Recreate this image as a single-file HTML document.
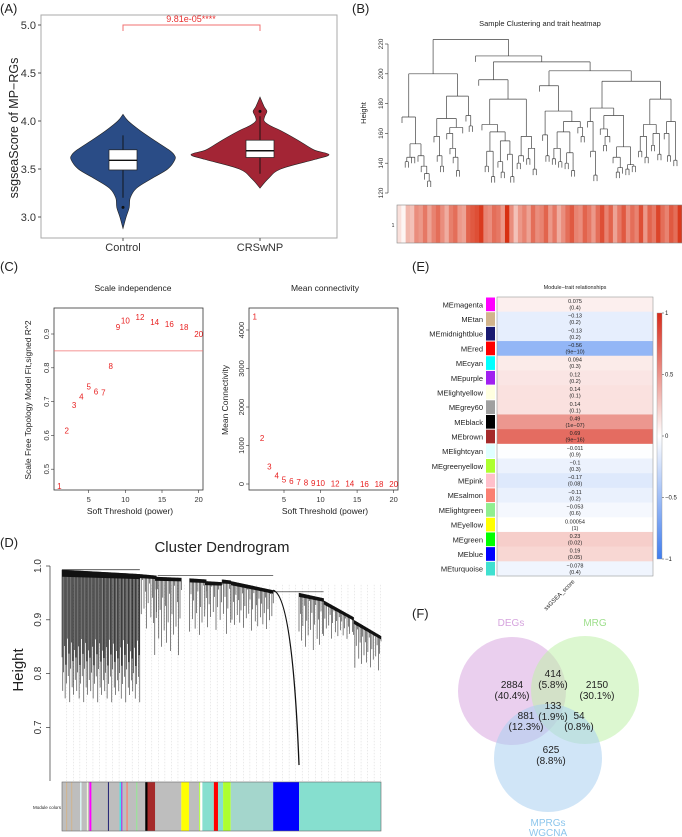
<!DOCTYPE html>
<html><head><meta charset="utf-8"><style>
html,body{margin:0;padding:0;background:#fff}
svg{display:block;font-family:"Liberation Sans",Arial,sans-serif}
</style></head><body>
<svg id="fig" width="682" height="837" viewBox="0 0 682 837" xmlns="http://www.w3.org/2000/svg">
<rect width="682" height="837" fill="#fff"/>
<g font-size="13" fill="#222">
<text x="0" y="13">(A)</text>
<text x="352" y="13">(B)</text>
<text x="0" y="271">(C)</text>
<text x="0" y="547">(D)</text>
<text x="412" y="271">(E)</text>
<text x="412" y="618">(F)</text>
</g>
<g id="pa">
<rect x="41" y="15" width="296" height="223" fill="none" stroke="#aaa" stroke-width="1"/>
<text transform="translate(18,128) rotate(-90)" text-anchor="middle" font-size="12.5" fill="#222">ssgseaScore of MP−RGs</text>
<path d="M123,31 V25 H260 V31" fill="none" stroke="#f07070" stroke-width="1"/>
<text x="191" y="22" text-anchor="middle" font-size="9" fill="#e83030">9.81e-05****</text>
</g>
<g id="pb">
<text x="540" y="26" text-anchor="middle" font-size="7.5" fill="#222">Sample Clustering and trait heatmap</text>
<text transform="translate(366,113) rotate(-90)" text-anchor="middle" font-size="7.5" fill="#222">Height</text>
<text x="393" y="227" text-anchor="middle" font-size="5" fill="#222">1</text>
</g>
<g id="pc">
<rect x="54" y="308" width="149" height="182" fill="none" stroke="#333" stroke-width="0.8"/>
<rect x="249" y="308" width="149" height="182" fill="none" stroke="#333" stroke-width="0.8"/>
<text x="133" y="291" text-anchor="middle" font-size="8.5" fill="#222">Scale independence</text>
<text x="325" y="291" text-anchor="middle" font-size="8.5" fill="#222">Mean connectivity</text>
<text x="130" y="514" text-anchor="middle" font-size="8.5" fill="#222">Soft Threshold (power)</text>
<text x="325" y="514" text-anchor="middle" font-size="8.5" fill="#222">Soft Threshold (power)</text>
<text transform="translate(31,400) rotate(-90)" text-anchor="middle" font-size="8.5" fill="#222">Scale Free Topology Model Fit,signed R^2</text>
<text transform="translate(228,400) rotate(-90)" text-anchor="middle" font-size="8.5" fill="#222">Mean Connectivity</text>
</g>
<g id="pd">
<text x="222" y="552" text-anchor="middle" font-size="15" fill="#222">Cluster Dendrogram</text>
<text transform="translate(23,670) rotate(-90)" text-anchor="middle" font-size="15" fill="#222">Height</text>
<text x="61" y="809" text-anchor="end" font-size="4.5" fill="#222">Module colors</text>
</g>
<g id="pe">
<text x="575" y="289" text-anchor="middle" font-size="5.5" fill="#222">Module−trait relationships</text>
<text transform="translate(575,582) rotate(-45)" text-anchor="end" font-size="6" fill="#222">ssGSEA_score</text>
</g>
<g id="pf"></g>
</svg>
<script>
const NS='http://www.w3.org/2000/svg';
const svg=document.getElementById('fig');
function mk(tag,attrs,parent){const e=document.createElementNS(NS,tag);for(const k in attrs)e.setAttribute(k,attrs[k]);(parent||svg).appendChild(e);return e;}
function smooth(pts){let d='M'+pts[0][0]+','+pts[0][1];for(let i=0;i<pts.length-1;i++){const p0=pts[Math.max(0,i-1)],p1=pts[i],p2=pts[i+1],p3=pts[Math.min(pts.length-1,i+2)];const c1=[p1[0]+(p2[0]-p0[0])/6,p1[1]+(p2[1]-p0[1])/6],c2=[p2[0]-(p3[0]-p1[0])/6,p2[1]-(p3[1]-p1[1])/6];d+=' C'+c1[0]+','+c1[1]+' '+c2[0]+','+c2[1]+' '+p2[0]+','+p2[1];}return d;}

/* ===== Panel A data ===== */
const violinGroups=['Control','CRSwNP'];
const ctrlDensY=[2.88,3.0,3.1,3.2,3.3,3.4,3.5,3.6,3.65,3.7,3.8,3.9,4.0,4.07];
const ctrlDensW=[0,0.06,0.12,0.14,0.26,0.55,0.86,1.0,0.98,0.88,0.6,0.33,0.1,0];
const crsDensY=[3.3,3.4,3.5,3.6,3.65,3.7,3.8,3.9,3.95,4.0,4.05,4.1,4.15,4.25];
const crsDensW=[0,0.12,0.3,0.8,1.0,0.78,0.55,0.3,0.15,0.06,0.07,0.1,0.06,0];
const ctrlBox=[3.2,3.49,3.59,3.70,3.85]; const ctrlOut=[3.1];
const crsBox=[3.45,3.62,3.69,3.80,4.05]; const crsOut=[4.1];
const aTicks=[3.0,3.5,4.0,4.5,5.0];
const pa=document.getElementById('pa');
const yA=v=>25+(5-v)*96; const xA={Control:123,CRSwNP:260};
aTicks.forEach(t=>{
 const l=mk('line',{x1:38,x2:41,y1:yA(t),y2:yA(t),stroke:'#555'},pa);
 
 
 const tx=mk('text',{x:36,y:yA(t)+4,'text-anchor':'end','font-size':11,fill:'#333'},pa);tx.textContent=t.toFixed(1);
 
 
});
function drawViolin(name,ys,ws,maxW,fill,box,outs){
 const cx=xA[name];
 const right=ys.map((y,i)=>[cx+ws[i]*maxW,yA(y)]);
 const left=ys.map((y,i)=>[cx-ws[i]*maxW,yA(y)]).reverse();
 const d=smooth(right)+' L'+smooth(left).slice(1)+' Z';
 const p=mk('path',{d:d,fill:fill,stroke:'#222','stroke-width':0.6},pa);
 
 
 const w=mk('line',{x1:cx,x2:cx,y1:yA(box[0]),y2:yA(box[4]),stroke:'#111','stroke-width':0.9},pa);
 
 
 const b=mk('rect',{x:cx-14,y:yA(box[3]),width:28,height:yA(box[1])-yA(box[3]),fill:'#fff',stroke:'#222','stroke-width':0.7},pa);
 
 
 const m=mk('line',{x1:cx-14,x2:cx+14,y1:yA(box[2]),y2:yA(box[2]),stroke:'#111','stroke-width':1.4},pa);
 
 
 outs.forEach(o=>{const c=mk('circle',{cx:cx,cy:yA(o),r:1.5,fill:'#111'},pa);
  
  });
 const tk=mk('line',{x1:cx,x2:cx,y1:238,y2:241,stroke:'#555'},pa);
 
 
 const t=mk('text',{x:cx,y:251,'text-anchor':'middle','font-size':11,fill:'#333'},pa);t.textContent=name;
 
 
}
drawViolin('Control',ctrlDensY,ctrlDensW,52,'#2a4c86',ctrlBox,ctrlOut);
drawViolin('CRSwNP',crsDensY,crsDensW,69,'#a32535',crsBox,crsOut);

/* ===== Panel B data ===== */
const pb=document.getElementById('pb');
const bTicks=[120,140,160,180,200,220];
const sampleTree=[223,
 [200,
  [171,0,[153,[144,[141,0,0],[144,0,0]],[145,0,[138,0,[133,0,[128,0,0]]]]]],
  [185,[170,[158,0,[145,0,[138,0,0]]],[164,[160,0,[150,0,[144,0,[135,0,0]]]],0]],[172,0,[165,0,0]]]],
 [212,0,[208,
  [196,0,[183,[166,0,[161,[148,[138,0,0],[131,0,0]],[155,[141,0,[134,0,0]],[146,0,[131,0,0]]]]],[158,[145,[140,0,0],0],[150,[143,0,0],[136,0,0]]]]],
  [202,[192,0,[175,[159,0,[145,0,0]],[168,[161,[150,[143,0,0],[141,0,0]],[147,[140,0,0],[135,0,0]]],[164,0,[158,0,0]]]]],
   [195,[177,[168,0,[148,0,[132,0,0]]],[172,[163,0,[158,[152,0,0],0]],[151,[144,0,[137,[134,0,0],0]],[139,[136,0,0],[138,0,0]]]]],
    [183,[166,[158,[148,0,0],[144,0,0]],[160,[152,0,0],[146,0,0]]],[168,[160,0,[145,0,0]],[142,0,0]]]]]]]];
const traitValues=[0.15,0.05,0.35,0.3,0.55,0.5,0.65,0.45,0.6,0.7,0.55,0.4,0.62,0.7,0.5,0.45,0.75,0.8,0.85,0.95,0.6,0.55,0.7,0.65,0.5,1.0,0.55,0.3,0.5,0.6,0.45,0.7,0.55,0.6,0.75,0.5,0.65,0.4,0.55,0.7,0.8,0.6,0.55,0.75,0.65,0.5,0.7,0.85,0.6,0.75,0.45,0.65,0.8,0.55,0.7,0.6,0.85,0.5,0.75,0.65,0.9,0.7,0.6,0.8,0.7,0.95];
const yB=v=>193-(v-120)*1.49;
bTicks.forEach(t=>{
 const l=mk('line',{x1:385,x2:388,y1:yB(t),y2:yB(t),stroke:'#333','stroke-width':0.6},pb);
 
 
 const tx=mk('text',{transform:`translate(383,${yB(t)}) rotate(-90)`,'text-anchor':'middle','font-size':6.5,fill:'#333'},pb);tx.textContent=t;
 
 
});
const ax=mk('line',{x1:388,x2:388,y1:yB(120),y2:yB(220),stroke:'#333','stroke-width':0.6},pb);


function countLeaves(n){return Array.isArray(n)?countLeaves(n[1])+countLeaves(n[2]):1;}
const nLeaves=countLeaves(sampleTree);let leafIdx=0;const leafStep=(677-402)/(nLeaves-1);
let dpath='';
function layout(n,parentH){
 if(!Array.isArray(n)){const x=402+leafIdx*leafStep;leafIdx++;const bot=n||parentH-4;dpath+=`M${x},${yB(parentH)}V${yB(bot)}`;return x;}
 const xl=layout(n[1],n[0]),xr=layout(n[2],n[0]);
 dpath+=`M${xl},${yB(n[0])}H${xr}`;
 const xm=(xl+xr)/2; if(parentH!==null) dpath+=`M${xm},${yB(n[0])}V${yB(parentH)}`;
 return xm;}
layout(sampleTree,null);
const dp=mk('path',{d:dpath,fill:'none',stroke:'#444','stroke-width':0.7},pb);


const cw=(682-397)/traitValues.length;
traitValues.forEach((v,i)=>{
 const r=Math.round(255-v*(255-216)),g=Math.round(255-v*(255-48)),b=Math.round(255-v*(255-18));
 const c=mk('rect',{x:397+i*cw,y:205,width:cw+0.4,height:38,fill:`rgb(${r},${g},${b})`},pb);
 
 
});
const hf=mk('rect',{x:397,y:205,width:285,height:38,fill:'none',stroke:'#888','stroke-width':0.6},pb);



/* ===== Panel C data ===== */
const pc=document.getElementById('pc');
const powers=[1,2,3,4,5,6,7,8,9,10,12,14,16,18,20];
const fitR2=[0.45,0.615,0.69,0.715,0.745,0.73,0.727,0.805,0.92,0.94,0.95,0.935,0.93,0.92,0.90];
const meanK=[4350,1190,460,220,120,75,50,35,25,20,12,8,6,4,3];
const cFitTicks=[0.5,0.6,0.7,0.8,0.9];
const cKTicks=[0,1000,2000,3000,4000];
const cXTicks=[5,10,15,20];
const r2Cut=0.85;
const xC1=p=>88.7+(p-5)*7.33, yC1=v=>334+(0.9-v)*338;
const xC2=p=>284+(p-5)*7.31, yC2=v=>484-v*0.0385;
function ticksC(xs,ys,yt,fmt,axX,label){
 yt.forEach(t=>{const l=mk('line',{x1:axX-3,x2:axX,y1:ys(t),y2:ys(t),stroke:'#333','stroke-width':0.6},pc);
  
  
  const tx=mk('text',{transform:`translate(${axX-5},${ys(t)}) rotate(-90)`,'text-anchor':'middle','font-size':7.5,fill:'#333'},pc);tx.textContent=fmt(t);
  
  });
 cXTicks.forEach(t=>{const l=mk('line',{x1:xs(t),x2:xs(t),y1:490,y2:493,stroke:'#333','stroke-width':0.6},pc);
  
  
  const tx=mk('text',{x:xs(t),y:502,'text-anchor':'middle','font-size':7.5,fill:'#333'},pc);tx.textContent=t;
  
  });
}
ticksC(xC1,yC1,cFitTicks,t=>t.toFixed(1),54,'scale-independence');
ticksC(xC2,yC2,cKTicks,t=>String(t),249,'mean-connectivity');
const hl=mk('line',{x1:54,x2:203,y1:yC1(r2Cut),y2:yC1(r2Cut),stroke:'#f07070','stroke-width':0.8},pc);


powers.forEach((p,i)=>{
 const t1=mk('text',{x:xC1(p),y:yC1(fitR2[i])+3,'text-anchor':'middle','font-size':8,fill:'#e82020'},pc);t1.textContent=p;
 
 
 const t2=mk('text',{x:xC2(p),y:yC2(meanK[i])+3,'text-anchor':'middle','font-size':8,fill:'#e82020'},pc);t2.textContent=p;
 
 
});

/* ===== Panel D data ===== */
const pd=document.getElementById('pd');
const dTicks=[0.7,0.8,0.9,1.0];
// clusters: [startFrac, endFrac, topHeightStart, topHeightEnd, lowestHeight]
const geneClusters=[[0,0.244,0.993,0.985,0.74],[0.244,0.296,0.985,0.982,0.86],[0.291,0.374,0.980,0.978,0.80],[0.4,0.452,0.977,0.975,0.84],[0.448,0.5,0.972,0.970,0.86],[0.502,0.529,0.975,0.973,0.85],[0.529,0.662,0.972,0.955,0.86],[0.743,0.82,0.950,0.940,0.82],[0.82,0.914,0.936,0.905,0.85],[0.914,1.0,0.900,0.870,0.79]];
const bigBranch=[0.662,0.955,0.743,0.63];
const moduleSegs=[['#bebebe',0,0.37],['#d2b48c',0.013,0.016],['#d2b48c',0.029,0.032],['#e0ffff',0.057,0.061],['#ffffe0',0.078,0.081],['#ff00ff',0.086,0.092],['#191970',0.144,0.147],['#00ffff',0.181,0.184],['#a020f0',0.186,0.189],['#fa8072',0.202,0.206],['#90ee90',0.233,0.236],['#000000',0.261,0.268],['#a52a2a',0.268,0.292],['#bebebe',0.292,0.374],['#ffff00',0.374,0.398],['#bebebe',0.398,0.43],['#adff2f',0.43,0.433],['#86dfcf',0.44,0.476],['#ff0000',0.476,0.489],['#86dfcf',0.489,0.505],['#adff2f',0.505,0.529],['#a4d6cc',0.529,0.662],['#0000ff',0.662,0.743],['#86dfcf',0.743,1.0]];
const pattern=[0.35,0.8,0.55,0.2,0.9,0.45,0.7,0.1,0.6,0.3,0.95,0.5,0.15,0.75,0.4,0.85,0.25,0.65];
const xD0=62,xD1=381,xD=f=>xD0+f*(xD1-xD0),yD=v=>566+(1-v)*538;
dTicks.forEach(t=>{const l=mk('line',{x1:46,x2:50,y1:yD(t),y2:yD(t),stroke:'#333','stroke-width':0.7},pd);
 
 
 const tx=mk('text',{transform:`translate(41,${yD(t)}) rotate(-90)`,'text-anchor':'middle','font-size':10,fill:'#333'},pd);tx.textContent=t.toFixed(1);
 
 });
const dax=mk('line',{x1:50,x2:50,y1:yD(1.0),y2:781,stroke:'#333','stroke-width':0.7},pd);


let grid='';for(let i=0;i<=48;i++){const x=xD(0.015+i*0.0205);grid+=`M${x},${yD(0.965)}V781`;}
const gp=mk('path',{d:grid,stroke:'#d4d4d4','stroke-width':0.5,'stroke-dasharray':'1.5,1.5',fill:'none'},pd);


let dd='',tops='';
geneClusters.forEach((c,ci)=>{
 const x0=xD(c[0]),x1=xD(c[1]);const n=Math.max(6,Math.round((x1-x0)*(ci===0?1.3:0.8)));
 for(let i=0;i<n;i++){const f=i/(n-1);const x=x0+f*(x1-x0);const top=c[2]+(c[3]-c[2])*f;const pf=pattern[(i+ci*5)%pattern.length];
  const bot=top-(top-c[4])*(ci===0?(0.45+0.55*pf):pf*0.85);dd+=`M${x.toFixed(1)},${yD(top)}V${yD(bot)}`;}
 tops+=`M${x0},${yD(c[2])}L${x1},${yD(c[3])}L${x1},${yD(c[3])+(ci===0?5:3.5)}L${x0},${yD(c[2])+(ci===0?7:4)}Z`;
});
const dl=mk('path',{d:dd,stroke:'#1a1a1a','stroke-width':0.55,fill:'none'},pd);


const dt=mk('path',{d:tops,fill:'#111'},pd);


const bb=mk('path',{d:`M${xD(bigBranch[0])},${yD(bigBranch[1])} Q${xD(bigBranch[0]+0.06)},${yD(bigBranch[1]-0.01)} ${xD(bigBranch[2])},${yD(bigBranch[3])}`,stroke:'#111','stroke-width':1.3,fill:'none'},pd);


const topLine=mk('path',{d:`M${xD(0)},${yD(0.993)}H${xD(0.244)}M${xD(0.3)},${yD(0.982)}H${xD(0.662)}M${xD(0.662)},${yD(0.952)}H${xD(0.743)}M${xD(0.72)},${yD(0.952)}H${xD(0.82)}`,stroke:'#222','stroke-width':0.7,fill:'none'},pd);


moduleSegs.forEach(s=>{const r=mk('rect',{x:xD(s[1]),y:782,width:Math.max(0.8,xD(s[2])-xD(s[1])),height:49,fill:s[0]},pd);
 
 });
const mf=mk('rect',{x:xD0,y:782,width:xD1-xD0,height:49,fill:'none',stroke:'#666','stroke-width':0.6},pd);



/* ===== Panel E data ===== */
const pe=document.getElementById('pe');
const modules=['MEmagenta','MEtan','MEmidnightblue','MEred','MEcyan','MEpurple','MElightyellow','MEgrey60','MEblack','MEbrown','MElightcyan','MEgreenyellow','MEpink','MEsalmon','MElightgreen','MEyellow','MEgreen','MEblue','MEturquoise'];
const moduleColors=['#ff00ff','#d2b48c','#191970','#ff0000','#00ffff','#a020f0','#ffffe0','#a0a0a0','#000000','#a52a2a','#e0ffff','#adff2f','#ffc0cb','#fa8072','#90ee90','#ffff00','#00ff00','#0000ff','#40e0d0'];
const corrs=[0.075,-0.13,-0.13,-0.56,0.094,0.12,0.14,0.14,0.49,0.69,-0.011,-0.1,-0.17,-0.11,-0.053,0.00054,0.23,0.19,-0.078];
const pvals=['0.4','0.2','0.2','9e−10','0.3','0.2','0.1','0.1','1e−07','9e−16','0.9','0.3','0.08','0.2','0.6','1','0.02','0.05','0.4'];
const cbTicks=[1,0.5,0,-0.5,-1];
const rowH=(576-297)/modules.length;
function corrColor(v){if(v>=0){return `rgb(${Math.round(255-v*39)},${Math.round(255-v*213)},${Math.round(255-v*229)})`;}const a=-v;return `rgb(${Math.round(255-a*192)},${Math.round(255-a*130)},${Math.round(255-a*16)})`;}
modules.forEach((m,i)=>{
 const y=297+i*rowH;
 const t=mk('text',{x:483,y:y+rowH/2+3,'text-anchor':'end','font-size':7.5,fill:'#222'},pe);t.textContent=m;
 
 
 const sw=mk('rect',{x:486,y:y+0.5,width:9,height:rowH-1,fill:moduleColors[i]},pe);
 
 
 const c=mk('rect',{x:497,y:y,width:156,height:rowH+0.3,fill:corrColor(corrs[i])},pe);
 
 
 const v=mk('text',{x:575,y:y+6,'text-anchor':'middle','font-size':5.5,fill:'#222'},pe);v.textContent=String(corrs[i]).replace('-','−');
 
 
 const p=mk('text',{x:575,y:y+12.5,'text-anchor':'middle','font-size':5.5,fill:'#222'},pe);p.textContent='('+pvals[i]+')';
 
 
});
const ef=mk('rect',{x:497,y:297,width:156,height:279,fill:'none',stroke:'#999','stroke-width':0.6},pe);


const defs=mk('defs',{});const lg=mk('linearGradient',{id:'cb',x1:0,y1:0,x2:0,y2:1},defs);
[[0,corrColor(1)],[0.5,'#fff'],[1,corrColor(-1)]].forEach(s=>mk('stop',{offset:s[0],'stop-color':s[1]},lg));
const yCb=v=>313+(1-v)*123;
const cb=mk('rect',{x:657,y:313,width:5,height:246,fill:'url(#cb)',stroke:'#999','stroke-width':0.4},pe);


cbTicks.forEach(t=>{const l=mk('line',{x1:662,x2:664,y1:yCb(t),y2:yCb(t),stroke:'#333','stroke-width':0.5},pe);
 
 
 const tx=mk('text',{x:665,y:yCb(t)+2,'font-size':6,fill:'#222'},pe);tx.textContent=String(t).replace('-','−');
 
 });

/* ===== Panel F data ===== */
const pf=document.getElementById('pf');
const vennSets=['DEGs','MRG','MPRGs WGCNA'];
const vennCounts=['2884','414','2150','133','881','54','625'];
const vennPcts=['40.4%','5.8%','30.1%','1.9%','12.3%','0.8%','8.8%'];
const circ=[[512,691,'#d8a8e0'],[585,690,'#bff0aa'],[548,758,'#a9d0f0']];
circ.forEach((c,i)=>{const e=mk('circle',{cx:c[0],cy:c[1],r:54,fill:c[2],'fill-opacity':0.55},pf);
 
 });
const setLabels=[[511,627,'DEGs','#d6a4de'],[595,627,'MRG','#9edf8c'],[548,827,'MPRGs','#8cc6ec'],[548,837,'WGCNA','#8cc6ec']];
setLabels.forEach(s=>{const t=mk('text',{x:s[0],y:s[1]-1,'text-anchor':'middle','font-size':10,fill:s[3]},pf);t.textContent=s[2];
 
 });
const regionPos=[[512,688],[553,677],[597,688],[553,709],[526,719],[579,719],[551,753]];
vennCounts.forEach((n,i)=>{const p=regionPos[i];
 const a=mk('text',{x:p[0],y:p[1],'text-anchor':'middle','font-size':10,fill:'#222'},pf);a.textContent=n;
 
 
 const b=mk('text',{x:p[0],y:p[1]+11,'text-anchor':'middle','font-size':10,fill:'#222'},pf);b.textContent='('+vennPcts[i]+')';
 
 
});
</script>
</body></html>
